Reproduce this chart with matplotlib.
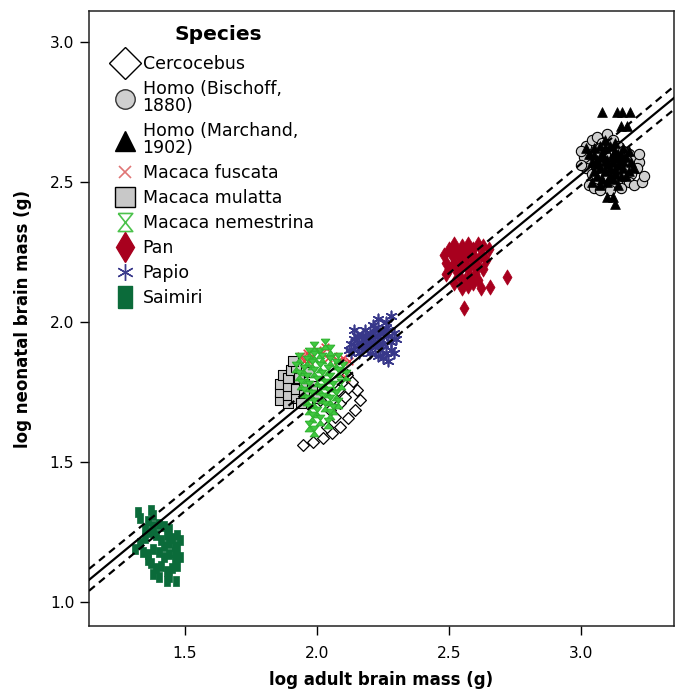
import matplotlib
matplotlib.use("Agg")
import matplotlib.pyplot as plt
import numpy as np
from matplotlib.lines import Line2D

plt.rcParams['font.family'] = ['DejaVu Sans']

# ---------------- data (log10 adult brain mass, log10 neonatal brain mass) ----------------
cercocebus_x = [1.947, 1.985, 2.023, 2.057, 2.087, 2.117, 2.144, 2.163, 2.152, 2.133, 2.114,
                2.049, 2.087, 2.068, 2.038, 2.106, 2.117, 2.011, 2.080]
cercocebus_y = [1.561, 1.571, 1.586, 1.604, 1.625, 1.657, 1.686, 1.721, 1.757, 1.786, 1.811,
                1.686, 1.711, 1.661, 1.625, 1.732, 1.764, 1.721, 1.757]

homo_bischoff_x = [3.02, 3.04, 3.06, 3.08, 3.10, 3.12, 3.14, 3.16, 3.18, 3.20, 3.22, 3.21, 3.19,
                   3.17, 3.15, 3.13, 3.11, 3.09, 3.07, 3.05, 3.03, 3.01, 3.00, 3.02, 3.04, 3.06,
                   3.08, 3.10, 3.12, 3.14, 3.16, 3.18, 3.20, 3.23, 3.15, 3.12, 3.09, 3.06, 3.03,
                   3.05, 3.08, 3.11, 3.24, 3.22, 3.06, 3.13, 3.00, 3.07, 3.17, 3.10]
homo_bischoff_y = [2.63, 2.65, 2.66, 2.64, 2.67, 2.65, 2.63, 2.61, 2.60, 2.58, 2.57, 2.55, 2.53,
                   2.55, 2.57, 2.59, 2.61, 2.60, 2.62, 2.60, 2.58, 2.59, 2.61, 2.55, 2.53, 2.55,
                   2.57, 2.55, 2.53, 2.51, 2.52, 2.50, 2.49, 2.50, 2.48, 2.49, 2.51, 2.50, 2.49,
                   2.48, 2.48, 2.47, 2.52, 2.60, 2.59, 2.56, 2.56, 2.47, 2.58, 2.52]

homo_marchand_x = [3.03, 3.05, 3.07, 3.09, 3.11, 3.13, 3.15, 3.17, 3.19, 3.04, 3.06, 3.08, 3.10,
                   3.12, 3.14, 3.16, 3.18, 3.05, 3.07, 3.09, 3.11, 3.13, 3.15, 3.17, 3.06, 3.08,
                   3.10, 3.12, 3.14, 3.04, 3.07, 3.18, 3.20, 3.02, 3.09, 3.13, 3.16, 3.11,
                   3.06, 3.10, 3.14, 3.08, 3.12, 3.16, 3.05, 3.09, 3.13,
                   3.08, 3.135, 3.155, 3.185, 3.15, 3.175, 3.10, 3.13, 3.12]
homo_marchand_y = [2.60, 2.62, 2.63, 2.62, 2.63, 2.61, 2.60, 2.59, 2.57, 2.57, 2.58, 2.59, 2.58,
                   2.57, 2.56, 2.55, 2.54, 2.54, 2.55, 2.54, 2.55, 2.53, 2.52, 2.52, 2.52, 2.51,
                   2.50, 2.51, 2.49, 2.50, 2.49, 2.61, 2.55, 2.62, 2.65, 2.64, 2.62, 2.52,
                   2.565, 2.565, 2.585, 2.605, 2.595, 2.575, 2.595, 2.575, 2.545,
                   2.75, 2.75, 2.75, 2.75, 2.70, 2.70, 2.445, 2.42, 2.445]

fuscata_x = [1.94, 1.96, 1.98, 2.00, 2.02, 2.04, 2.06, 2.08, 2.10, 2.12, 2.11, 1.97, 2.03, 1.95]
fuscata_y = [1.88, 1.89, 1.88, 1.90, 1.89, 1.87, 1.88, 1.86, 1.87, 1.86, 1.80, 1.86, 1.91, 1.86]

mulatta_x = [1.86, 1.86, 1.86, 1.87, 1.89, 1.89, 1.89, 1.89, 1.90, 1.92, 1.92, 1.92, 1.93, 1.95,
             1.95, 1.94, 1.97, 1.98, 1.91, 2.00]
mulatta_y = [1.72, 1.75, 1.78, 1.81, 1.71, 1.74, 1.77, 1.80, 1.83, 1.84, 1.73, 1.76, 1.80, 1.78,
             1.74, 1.71, 1.82, 1.77, 1.86, 1.73]

nemestrina_x = [1.99, 2.01, 2.03, 2.05, 1.97,
                1.93, 1.96, 1.99, 2.02, 2.05, 2.08,
                1.92, 1.95, 1.98, 2.01, 2.04, 2.07, 2.10,
                1.93, 1.96, 1.99, 2.02, 2.05, 2.08, 2.11,
                1.94, 1.97, 2.00, 2.03, 2.06, 2.09,
                1.95, 1.98, 2.01, 2.04, 2.07,
                1.96, 1.99, 2.02, 2.05, 2.08,
                1.97, 2.00, 2.03, 2.06,
                1.98, 2.01, 2.05,
                1.97, 1.99, 2.04]
nemestrina_y = [1.91, 1.89, 1.92, 1.90, 1.89,
                1.87, 1.86, 1.88, 1.87, 1.86, 1.87,
                1.84, 1.83, 1.85, 1.84, 1.83, 1.85, 1.84,
                1.81, 1.80, 1.82, 1.81, 1.80, 1.82, 1.81,
                1.78, 1.77, 1.79, 1.78, 1.77, 1.78,
                1.75, 1.74, 1.76, 1.75, 1.74,
                1.72, 1.71, 1.73, 1.72, 1.71,
                1.69, 1.68, 1.70, 1.69,
                1.66, 1.65, 1.67,
                1.63, 1.61, 1.64]

pan_x = [2.48, 2.49, 2.50, 2.52, 2.53, 2.55, 2.57, 2.59, 2.61, 2.63, 2.65, 2.62, 2.60, 2.58,
         2.56, 2.54, 2.52, 2.50, 2.53, 2.55, 2.57, 2.59, 2.61, 2.63, 2.60, 2.58, 2.56, 2.54,
         2.52, 2.55, 2.57, 2.59, 2.61, 2.62, 2.51, 2.64, 2.49, 2.56, 2.72, 2.655, 2.555]
pan_y = [2.24, 2.21, 2.26, 2.28, 2.25, 2.27, 2.28, 2.26, 2.28, 2.27, 2.26, 2.24, 2.23, 2.24,
         2.22, 2.23, 2.21, 2.19, 2.18, 2.20, 2.19, 2.21, 2.20, 2.19, 2.17, 2.16, 2.15, 2.16,
         2.14, 2.12, 2.13, 2.14, 2.15, 2.12, 2.24, 2.22, 2.17, 2.25, 2.16, 2.125, 2.05]

papio_x = [2.12, 2.13, 2.14, 2.15, 2.16, 2.17, 2.18, 2.19, 2.20, 2.21, 2.22, 2.23, 2.24, 2.25,
           2.26, 2.27, 2.28, 2.29, 2.30, 2.22, 2.24, 2.26, 2.28, 2.25, 2.27, 2.23, 2.20, 2.18,
           2.16, 2.14, 2.23, 2.28, 2.21, 2.26, 2.19, 2.29, 2.15, 2.13,
           2.17, 2.19, 2.21, 2.23, 2.25, 2.27, 2.20, 2.24, 2.18, 2.22]
papio_y = [1.90, 1.92, 1.94, 1.91, 1.93, 1.95, 1.92, 1.94, 1.96, 1.93, 1.95, 1.97, 1.94, 1.96,
           1.98, 1.95, 1.93, 1.96, 1.94, 1.91, 1.90, 1.89, 1.90, 1.87, 1.86, 1.88, 1.89, 1.97,
           1.89, 1.97, 2.01, 2.02, 1.99, 2.00, 1.91, 1.89, 1.95, 1.89,
           1.91, 1.95, 1.95, 1.92, 1.92, 1.97, 1.92, 1.96, 1.94, 1.98]

saimiri_x = [1.32, 1.33, 1.37, 1.38, 1.36, 1.40, 1.42, 1.44, 1.45, 1.47, 1.48, 1.46, 1.44, 1.41,
             1.39, 1.37, 1.35, 1.33, 1.31, 1.34, 1.36, 1.38, 1.40, 1.42, 1.44, 1.46, 1.48, 1.47,
             1.45, 1.43, 1.41, 1.39, 1.37, 1.38, 1.40, 1.44, 1.46, 1.42, 1.38, 1.43, 1.43, 1.465,
             1.35, 1.47, 1.36]
saimiri_y = [1.32, 1.30, 1.33, 1.31, 1.29, 1.28, 1.27, 1.26, 1.23, 1.24, 1.22, 1.20, 1.21, 1.22,
             1.24, 1.25, 1.23, 1.21, 1.19, 1.18, 1.17, 1.19, 1.18, 1.16, 1.17, 1.15, 1.16, 1.13,
             1.12, 1.11, 1.13, 1.12, 1.14, 1.10, 1.09, 1.09, 1.18, 1.20, 1.27, 1.24, 1.075, 1.075,
             1.26, 1.19, 1.15]

species = ["Cercocebus", "Homo (Bischoff,\n1880)", "Homo (Marchand,\n1902)", "Macaca fuscata",
           "Macaca mulatta", "Macaca nemestrina", "Pan", "Papio", "Saimiri"]
legend_title = "Species"

# fitted regression line and its confidence band
fit_intercept = 0.196
fit_slope = 0.777
ci_se0 = 0.035
ci_k = 0.018
ci_xm = 2.1

x_ticks = [1.5, 2.0, 2.5, 3.0]
y_ticks = [1.0, 1.5, 2.0, 2.5, 3.0]

# ---------------- markers ----------------
hourglass = [(-0.4, 0.5), (0.4, 0.5), (-0.4, -0.5), (0.4, -0.5), (-0.4, 0.5)]
tallrect = [(-0.3, -0.5), (0.3, -0.5), (0.3, 0.5), (-0.3, 0.5), (-0.3, -0.5)]

W, H = 679, 692
fig = plt.figure(figsize=(W/100, H/100), dpi=100)
ax = fig.add_axes([89/W, 1-626/H, (674-89)/W, (626-11)/H])
ax.set_xlim(1.136, 3.352)
ax.set_ylim(0.914, 3.111)

# regression line and CI
xl = np.linspace(1.136, 3.352, 200)
yl = fit_intercept + fit_slope * xl
hw = np.sqrt(ci_se0**2 + (ci_k * (xl - ci_xm))**2)
ax.plot(xl, yl, color='black', lw=1.6, zorder=5)
ax.plot(xl, yl + hw, color='black', lw=1.6, dashes=(3.4, 2.4), zorder=5)
ax.plot(xl, yl - hw, color='black', lw=1.6, dashes=(3.4, 2.4), zorder=5)

ax.scatter(cercocebus_x, cercocebus_y, marker='D', s=36, facecolor='white', edgecolor='black', linewidth=0.9, zorder=2)
ax.scatter(homo_bischoff_x, homo_bischoff_y, marker='o', s=55, facecolor='#cfcfcf', edgecolor='black', linewidth=0.8, zorder=2)
ax.scatter(homo_marchand_x, homo_marchand_y, marker='^', s=50, facecolor='black', edgecolor='black', linewidth=0.5, zorder=2)
ax.scatter(fuscata_x, fuscata_y, marker='x', s=30, color='#e8404a', linewidth=1.2, zorder=2)
ax.scatter(mulatta_x, mulatta_y, marker='s', s=58, facecolor='#c8c8c8', edgecolor='black', linewidth=0.8, zorder=2)
ax.scatter(nemestrina_x, nemestrina_y, marker=hourglass, s=58, facecolor='#40c840', edgecolor='#2fb42f', linewidth=0.8, zorder=2)
ax.scatter(pan_x, pan_y, marker='d', s=60, facecolor='#a8001e', edgecolor='#a8001e', linewidth=0.5, zorder=2)
ax.scatter(papio_x, papio_y, marker=(6, 2, 0), s=55, color='#38388a', linewidth=1.2, zorder=2)
ax.scatter(saimiri_x, saimiri_y, marker=tallrect, s=58, facecolor='#0b6b3a', edgecolor='#0b6b3a', linewidth=0.5, zorder=2)

# ---------------- axes styling ----------------
ax.set_xticks(x_ticks)
ax.set_yticks(y_ticks)
ax.set_xticklabels([f"{v:.1f}" for v in x_ticks])
ax.set_yticklabels([f"{v:.1f}" for v in y_ticks])
ax.tick_params(axis='both', direction='out', length=6.5, width=1.0, labelsize=11.2, colors='black')
ax.tick_params(axis='x', pad=8)
ax.tick_params(axis='y', pad=4)
ax.tick_params(top=False, right=False)
for sp in ax.spines.values():
    sp.set_linewidth(1.1)
    sp.set_color('#222222')

ax.set_xlabel("log adult brain mass (g)", fontsize=12, fontweight='bold', labelpad=7)
ax.set_ylabel("log neonatal brain mass (g)", fontsize=12, fontweight='bold', labelpad=13)

# ---------------- legend ----------------
handles = [
    Line2D([], [], ls='none', marker='D', markersize=16, markerfacecolor='white', markeredgecolor='black', markeredgewidth=1.0),
    Line2D([], [], ls='none', marker='o', markersize=14, markerfacecolor='#cfcfcf', markeredgecolor='#333333', markeredgewidth=1.0),
    Line2D([], [], ls='none', marker='^', markersize=14, markerfacecolor='black', markeredgecolor='black'),
    Line2D([], [], ls='none', marker='x', markersize=9, markeredgecolor='#e07575', markeredgewidth=1.2),
    Line2D([], [], ls='none', marker='s', markersize=14, markerfacecolor='#c8c8c8', markeredgecolor='black', markeredgewidth=1.0),
    Line2D([], [], ls='none', marker=hourglass, markersize=13, markerfacecolor='white', markeredgecolor='#4cc24c', markeredgewidth=1.2),
    Line2D([], [], ls='none', marker='d', markersize=15, markerfacecolor='#a8001e', markeredgecolor='#a8001e'),
    Line2D([], [], ls='none', marker=(6, 2, 0), markersize=12, markeredgecolor='#3b3b8c', markeredgewidth=1.0),
    Line2D([], [], ls='none', marker=tallrect, markersize=16, markerfacecolor='#0b6b3a', markeredgecolor='#0b6b3a'),
]
leg = ax.legend(handles, species, loc='upper left',
                bbox_to_anchor=((116 - 89) / (674 - 89) - 0.005, (626 - 55) / (626 - 11)),
                frameon=False, fontsize=12.5, labelspacing=0.40, handlelength=1.4, handletextpad=0.3,
                borderpad=0.0, borderaxespad=0.0)
for t in leg.get_texts():
    t.set_linespacing(0.95)

ax.text((218 - 89) / (674 - 89), (626 - 35) / (626 - 11), legend_title, transform=ax.transAxes,
        ha='center', va='center', fontsize=14.5, fontweight='bold')

fig.savefig("out.png", dpi=100)
